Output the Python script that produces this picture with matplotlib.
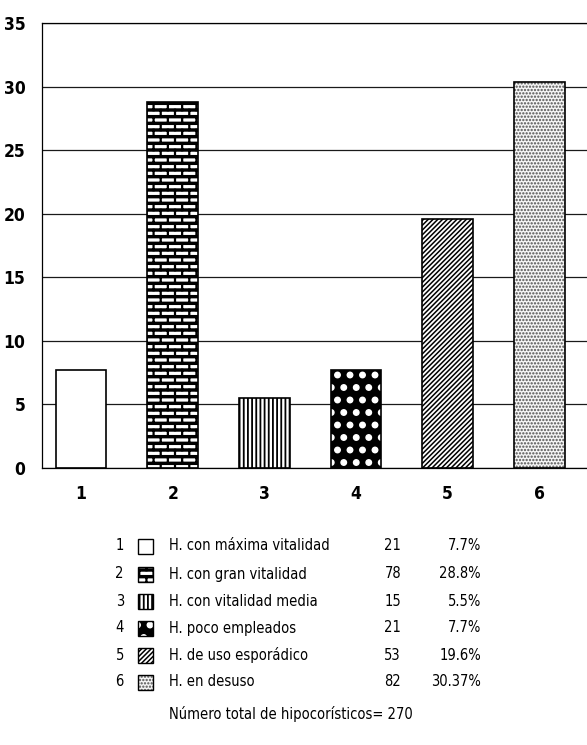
import warnings
import numpy as np
import matplotlib
matplotlib.use('Agg')
import matplotlib.pyplot as plt
from matplotlib import hatch as mhatch
from matplotlib import font_manager as fm
from matplotlib.path import Path
from matplotlib.patches import Rectangle

warnings.filterwarnings('ignore')

# Datos del gráfico (porcentajes de cada tipo de hipocorístico)
categorias = ['1', '2', '3', '4', '5', '6']
porcentajes = [7.7, 28.8, 5.5, 7.7, 19.6, 30.37]
recuentos = ['21', '78', '15', '21', '53', '82']
etiquetas_pct = ['7.7%', '28.8%', '5.5%', '7.7%', '19.6%', '30.37%']
descripciones = ['H. con máxima vitalidad', 'H. con gran vitalidad',
                 'H. con vitalidad media', 'H. poco empleados',
                 'H. de uso esporádico', 'H. en desuso']
texto_total = 'Número total de hipocorísticos= 270'
marcas_y = [0, 5, 10, 15, 20, 25, 30, 35]


# Trama de ladrillos ('b')
class BrickHatch(mhatch.HatchPatternBase):
    def __init__(self, hatch, density):
        n = hatch.count('b')
        self.rows = 15 * n
        self.cols = 7 * n
        if n == 0:
            self.num_vertices = 0
        else:
            self.num_vertices = 2 * (2 * self.rows + (self.rows + 1) * self.cols)

    def set_vertices_and_codes(self, vertices, codes):
        r, c = self.rows, self.cols
        ys = (np.arange(r) + 0.5) / r
        segs = []
        for y in ys:
            # junta horizontal doble (más gruesa)
            segs.append(((0.0, y - 0.006), (1.0, y - 0.006)))
            segs.append(((0.0, y + 0.006), (1.0, y + 0.006)))
        for i in range(r):
            xs = (np.arange(c) + 0.25 + 0.5 * (i % 2)) / c
            for x in xs:
                if i < r - 1:
                    segs.append(((x, ys[i]), (x, ys[i + 1])))
                else:
                    segs.append(((x, ys[i]), (x, 1.0)))
                    segs.append(((x, 0.0), (x, ys[0])))
        vertices[:] = np.array(segs).reshape(-1, 2)
        codes[0::2] = Path.MOVETO
        codes[1::2] = Path.LINETO


# Lunares grandes rellenos ('d')
class BigDots(mhatch.Circles):
    size = 0.22
    filled = True

    def __init__(self, hatch, density):
        self.num_rows = hatch.count('d') * 8
        super().__init__(hatch, density)


# Punteado fino ('p')
class FineDots(mhatch.Circles):
    size = 0.15
    filled = True

    def __init__(self, hatch, density):
        self.num_rows = hatch.count('p') * 30
        super().__init__(hatch, density)


mhatch._hatch_types.extend([BrickHatch, BigDots, FineDots])


# Buscar una fuente estrecha si hay alguna instalada
def buscar_fuente(bold):
    preferidas = ['LiberationSansNarrow', 'DejaVuSansCondensed', 'RobotoCondensed',
                  'OpenSans_Condensed', 'OpenSansCondensed', 'NotoSans-Condensed',
                  'NotoSansCondensed']
    archivos = [f.fname for f in fm.fontManager.ttflist]
    for p in preferidas:
        for a in archivos:
            nombre = a.split('/')[-1].replace(' ', '')
            if not nombre.startswith(p):
                continue
            resto = nombre[len(p):].lower()
            es_bold = 'bold' in resto
            if es_bold == bold and 'italic' not in resto and 'oblique' not in resto:
                return fm.FontProperties(fname=a)
    return fm.FontProperties(family='Liberation Sans',
                             weight='bold' if bold else 'normal')


fuente = buscar_fuente(False)
fuente_b = buscar_fuente(True)

# estilo de cada barra: (relleno, trama, color de trama, grosor de trama)
estilos = [
    ('white', '', 'black', 1.0),
    ('white', 'b', 'black', 1.6),
    ('white', '||||', 'black', 1.3),
    ('black', 'd', 'white', 1.0),
    ('white', '///////', 'black', 1.1),
    ('#fafafa', 'p', '#707070', 1.0),
]

W, H = 587, 745
fig = plt.figure(figsize=(W / 100, H / 100), dpi=100)
ax = fig.add_axes([42 / W, (H - 468) / H, 1 - 42 / W, (468 - 23) / H])

x = np.arange(1, len(categorias) + 1)
for xi, val, (fc, ht, hc, hlw) in zip(x, porcentajes, estilos):
    plt.rcParams['hatch.linewidth'] = hlw
    b = ax.bar(xi, val, width=0.55, color=fc, edgecolor=hc, linewidth=0,
               hatch=ht, zorder=2)[0]
    if hasattr(b, 'set_hatch_linewidth'):
        b.set_hatch_linewidth(hlw)
ax.bar(x, porcentajes, width=0.55, fill=False, edgecolor='black',
       linewidth=1.2, zorder=3)

ax.set_xlim(0.574, 6.52)
ax.set_ylim(0, 35)
ax.set_yticks(marcas_y)
ax.set_xticks(x)
ax.set_xticklabels(categorias)
ax.tick_params(length=0)
ax.tick_params(axis='y', pad=12)
ax.tick_params(axis='x', pad=12)
for lab in ax.get_xticklabels() + ax.get_yticklabels():
    lab.set_fontproperties(fuente_b)
    lab.set_fontsize(12.5)
ax.yaxis.grid(True, color='#1a1a1a', linewidth=0.9, zorder=1)
ax.set_axisbelow(True)
ax.spines['right'].set_visible(False)
for s in ['left', 'bottom', 'top']:
    ax.spines[s].set_linewidth(0.9)

# Tabla de leyenda debajo del gráfico
tam = 10.5
filas_y = [546, 574, 601, 628, 655, 682]
for i, yy in enumerate(filas_y):
    fy = 1 - yy / H
    fig.text(124 / W, fy, categorias[i], ha='right', va='center',
             fontproperties=fuente, fontsize=tam)
    fc, ht, hc, hlw = estilos[i]
    plt.rcParams['hatch.linewidth'] = hlw
    sq = Rectangle((138 / W, 1 - (yy + 7.5) / H), 15 / W, 15 / H,
                   transform=fig.transFigure, facecolor=fc, edgecolor=hc,
                   linewidth=0, hatch=ht)
    if hasattr(sq, 'set_hatch_linewidth'):
        sq.set_hatch_linewidth(hlw)
    fig.add_artist(sq)
    fig.add_artist(Rectangle((138 / W, 1 - (yy + 7.5) / H), 15 / W, 15 / H,
                             transform=fig.transFigure, fill=False,
                             edgecolor='black', linewidth=1.0))
    fig.text(169 / W, fy, descripciones[i], ha='left', va='center',
             fontproperties=fuente, fontsize=tam)
    fig.text(401 / W, fy, recuentos[i], ha='right', va='center',
             fontproperties=fuente, fontsize=tam)
    fig.text(481 / W, fy, etiquetas_pct[i], ha='right', va='center',
             fontproperties=fuente, fontsize=tam)

fig.text(169 / W, 1 - 714 / H, texto_total, ha='left', va='center',
         fontproperties=fuente, fontsize=tam)

fig.savefig('out.png', dpi=100)
